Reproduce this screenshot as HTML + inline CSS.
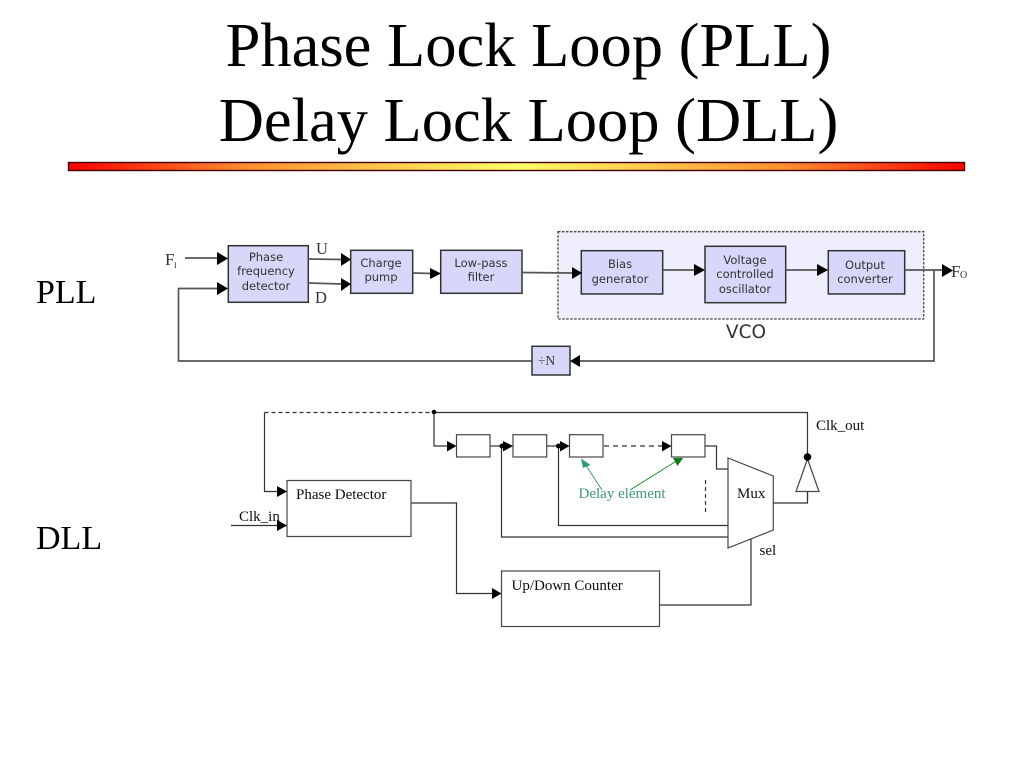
<!DOCTYPE html>
<html><head><meta charset="utf-8"><style>html,body{margin:0;padding:0;background:#fff}svg{display:block}</style></head>
<body>
<svg xmlns="http://www.w3.org/2000/svg" width="1024" height="768" viewBox="0 0 1024 768">
<defs>
<linearGradient id="bar" x1="0" x2="1" y1="0" y2="0">
<stop offset="0" stop-color="#ff0000"/><stop offset="0.2" stop-color="#ff9030"/><stop offset="0.5" stop-color="#ffff66"/><stop offset="0.8" stop-color="#ff9030"/><stop offset="1" stop-color="#ff0000"/>
</linearGradient>
<filter id="soft" x="-5%" y="-5%" width="110%" height="110%"><feGaussianBlur stdDeviation="0.35"/></filter>
</defs>
<rect width="1024" height="768" fill="#fff"/>
<g font-family="'Liberation Serif',serif" font-size="62.5" fill="#000" text-anchor="middle">
<text x="528.5" y="66">Phase Lock Loop (PLL)</text>
<text x="528.5" y="141">Delay Lock Loop (DLL)</text>
</g>
<rect x="68.5" y="162.5" width="896" height="8" fill="url(#bar)" stroke="#400" stroke-width="1.4"/>
<g font-family="'Liberation Serif',serif" font-size="34" fill="#000">
<text x="36" y="303">PLL</text>
<text x="36" y="549">DLL</text>
</g>

<!-- PLL -->
<g filter="url(#soft)">
<rect x="558" y="231.7" width="365.7" height="87.3" fill="#eeeefd" stroke="#444" stroke-width="1.3" stroke-dasharray="2.500 1.500"/>
<g fill="#d7d7fa" stroke="#333" stroke-width="1.500">
<rect x="228.300" y="245.700" width="80" height="56.600"/>
<rect x="350.700" y="250.300" width="62" height="43"/>
<rect x="440.700" y="250.300" width="81.300" height="43"/>
<rect x="581.300" y="250.700" width="81.400" height="43.300"/>
<rect x="705" y="246.300" width="80.700" height="56.400"/>
<rect x="828.300" y="250.700" width="76.400" height="43.300"/>
<rect x="532" y="346.300" width="38" height="28.700"/>
</g>
<g fill="none" stroke="#555" stroke-width="1.700">
<path d="M185 258H218"/>
<path d="M308 259L342 259.500"/>
<path d="M308 283L342 284"/>
<path d="M412.700 273L432 273.500"/>
<path d="M522 272.500L572 273"/>
<path d="M662.700 270H695"/>
<path d="M785.700 270H818"/>
<path d="M904.700 270H944"/>
<path d="M934 270V361H578"/>
<path d="M532 361H178.500V288.500H218"/>
</g>
<g fill="#000">
<path d="M217 252L228 258.500L217 265Z"/>
<path d="M217 282L228 288.500L217 295Z"/>
<path d="M341 253L351 259.500L341 266Z"/>
<path d="M341 278L351 284L341 291Z"/>
<path d="M430 268L441 273.500L430 279Z"/>
<path d="M572 267L582 273L572 279Z"/>
<path d="M694 264L705 270L694 276Z"/>
<path d="M817 264L828 270L817 276Z"/>
<path d="M942 264L953 270.500L942 277Z"/>
<path d="M580 355L570 361L580 367Z"/>
</g>
<g font-family="'DejaVu Sans',sans-serif" font-size="11.500" fill="#333" text-anchor="middle">
<text x="266" y="261">Phase</text>
<text x="266" y="275">frequency</text>
<text x="266" y="290">detector</text>
<text x="381" y="267">Charge</text>
<text x="381" y="281">pump</text>
<text x="481" y="267">Low-pass</text>
<text x="481" y="281">filter</text>
<text x="620" y="268">Bias</text>
<text x="620" y="283">generator</text>
<text x="745" y="264">Voltage</text>
<text x="745" y="278">controlled</text>
<text x="745" y="293">oscillator</text>
<text x="865" y="269">Output</text>
<text x="865" y="283">converter</text>
<text x="746" y="338" font-size="18.500">VCO</text>
</g>
<g font-family="'Liberation Serif',serif" fill="#333">
<text x="316" y="254" font-size="16.500">U</text>
<text x="315" y="303" font-size="16.500">D</text>
<text x="165" y="265" font-size="17">F</text>
<text x="174" y="268" font-size="8">I</text>
<text x="951" y="277" font-size="17">F</text>
<text x="960" y="278" font-size="10">O</text>
<text x="538" y="365" font-size="13.500">÷N</text>
</g>
</g>

<!-- DLL -->
<g filter="url(#soft)">
<g fill="none" stroke="#333" stroke-width="1.200">
<path d="M264.500 412.500H434" stroke-dasharray="4 3"/>
<path d="M264.500 412.500V491.500H278"/>
<path d="M434 412.500H807.500V500"/>
<path d="M434 412.500V446H447"/>
<path d="M490 446H504"/>
<path d="M547 446H561"/>
<path d="M604 446H663" stroke-dasharray="5 4"/>
<path d="M705 446H716.500V469H728"/>
<path d="M501.500 446V537H728"/>
<path d="M558.500 446V525.500H728"/>
<path d="M705.500 480V515" stroke-dasharray="4 3"/>
<path d="M231 525.500H278"/>
<path d="M410 503H456.500V593.500H493"/>
<path d="M659.500 605H751V537"/>
<path d="M773.500 503H807.500V491"/>
</g>
<g fill="#fff" stroke="#444" stroke-width="1.200">
<rect x="287" y="480.500" width="124" height="56"/>
<rect x="501.500" y="571" width="158" height="55.500"/>
<rect x="456.500" y="434.700" width="33.500" height="22.300"/>
<rect x="513" y="434.700" width="33.700" height="22.300"/>
<rect x="569.500" y="434.700" width="33.500" height="22.300"/>
<rect x="671.500" y="434.700" width="33.500" height="22.300"/>
<path d="M728 458L773.300 476V530L728 548Z"/>
<path d="M807.500 459L796 491.500H819Z"/>
</g>
<g fill="#000">
<circle cx="434" cy="412" r="2.300"/>
<circle cx="502" cy="446" r="2.500"/>
<circle cx="558.500" cy="446" r="2.500"/>
<circle cx="807.500" cy="457" r="3.800"/>
<path d="M447 441L456.500 446L447 451.500Z"/>
<path d="M503 441L513 446L503 451.500Z"/>
<path d="M560 441L569.500 446L560 451.500Z"/>
<path d="M662 441L671.500 446L662 451.500Z"/>
<path d="M277 486L287 491.500L277 497Z"/>
<path d="M277 520L287 525.500L277 531Z"/>
<path d="M492 588L501.500 593.500L492 599Z"/>
</g>
<path d="M585 464L602 490" stroke="#3f9a73" stroke-width="1" fill="none"/>
<path d="M630 490L678 460" stroke="#1f8a2f" stroke-width="1" fill="none"/>
<path d="M581 458.500L590.500 465L583 468Z" fill="#319a6e"/>
<path d="M673 458L683 458L677.500 466Z" fill="#0a7a0a"/>
<g font-family="'Liberation Serif',serif" font-size="15" fill="#111">
<text x="296" y="499">Phase Detector</text>
<text x="239" y="521">Clk_in</text>
<text x="511.500" y="590">Up/Down Counter</text>
<text x="737" y="498">Mux</text>
<text x="759.500" y="555">sel</text>
<text x="816" y="430">Clk_out</text>
<text x="578.500" y="498" fill="#3f9a73">Delay element</text>
</g>
</g>
</svg>
</body></html>
